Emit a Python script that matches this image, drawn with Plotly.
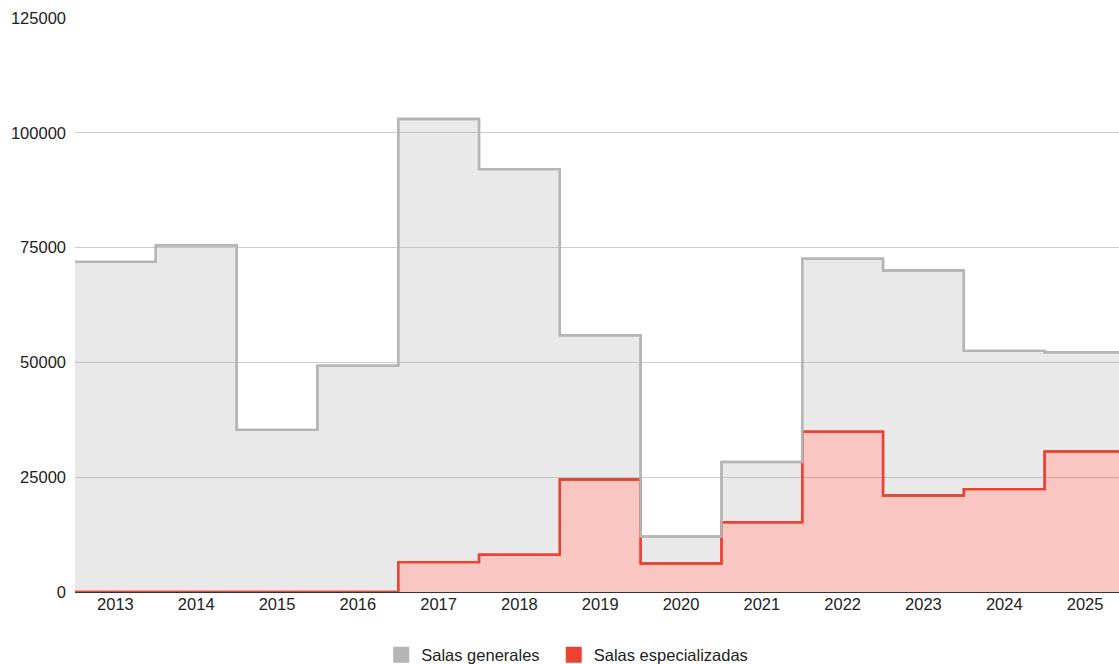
import plotly.graph_objects as go

years = ["2013", "2014", "2015", "2016", "2017", "2018", "2019",
         "2020", "2021", "2022", "2023", "2024", "2025"]
salas_generales = [71900, 75500, 35300, 49300, 103000, 92100, 55900,
                   12100, 28300, 72600, 70000, 52500, 52200]
salas_especializadas = [0, 0, 0, 0, 6500, 8100, 24500,
                        6200, 15200, 34900, 21000, 22400, 30600]
y_ticks = [0, 25000, 50000, 75000, 100000, 125000]

GRAY = "#b5b5b5"
RED = "#ea4335"
FONT = "Liberation Sans, Arial, sans-serif"
FS = 16.5


def step_xy(values):
    # step edges at category boundaries (index - 0.5 ... last + 0.5)
    xs = [i - 0.5 for i in range(len(values) + 1)]
    ys = list(values) + [values[-1]]
    return xs, ys


fig = go.Figure()

xr, yr = step_xy(salas_especializadas)
xg, yg = step_xy(salas_generales)

fig.add_trace(go.Scatter(
    x=xr, y=yr, mode="lines", line=dict(color=RED, width=2.4, shape="hv"),
    fill="tozeroy", fillcolor="rgba(234,67,53,0.3)", showlegend=False,
    hoverinfo="skip"))
fig.add_trace(go.Scatter(
    x=xg, y=yg, mode="lines", line=dict(color=GRAY, width=2.4, shape="hv"),
    fill="tonexty", fillcolor="rgba(181,181,181,0.3)", showlegend=False,
    hoverinfo="skip"))
fig.add_trace(go.Scatter(
    x=xr, y=yr, mode="lines", line=dict(color=RED, width=2.4, shape="hv"),
    showlegend=False, hoverinfo="skip"))
fig.add_trace(go.Scatter(
    x=xg, y=yg, mode="lines", line=dict(color=GRAY, width=2.4, shape="hv"),
    showlegend=False, hoverinfo="skip"))

# legend entries (square swatches)
fig.add_trace(go.Scatter(
    x=[None], y=[None], mode="markers", name="Salas generales\u00a0\u00a0",
    marker=dict(symbol="square", size=17, color=GRAY)))
fig.add_trace(go.Scatter(
    x=[None], y=[None], mode="markers", name="Salas especializadas",
    marker=dict(symbol="square", size=17, color=RED)))

fig.update_layout(
    width=1119, height=664,
    margin=dict(l=75, r=0, t=18, b=72, autoexpand=False),
    paper_bgcolor="white", plot_bgcolor="white",
    font=dict(family=FONT, size=FS, color="#222222"),
    showlegend=True,
    legend=dict(orientation="h", x=0.4715, xanchor="center", y=-0.11,
                yanchor="middle", font=dict(size=FS, color="#222222"),
                itemwidth=30, bgcolor="rgba(0,0,0,0)", traceorder="normal"),
    xaxis=dict(
        range=[-0.5, 12.42],
        tickmode="array",
        tickvals=list(range(len(years))),
        ticktext=years,
        showgrid=False, zeroline=False, showline=False, automargin=False,
        ticks="", tickfont=dict(size=FS, color="#222222"),
    ),
    yaxis=dict(
        range=[0, 125000],
        tickmode="array",
        tickvals=y_ticks,
        ticktext=[str(v) for v in y_ticks],
        showgrid=True, gridcolor="#cccccc", gridwidth=1,
        zeroline=True, zerolinecolor="#333333", zerolinewidth=1,
        showline=False, ticks="", ticklabelstandoff=8, automargin=False,
        tickfont=dict(size=FS, color="#222222"),
    ),
)

fig.write_html("out.html",
               config={"displayModeBar": False},
               post_script="document.body.style.margin='0';"
                           "document.body.style.overflow='hidden';")
